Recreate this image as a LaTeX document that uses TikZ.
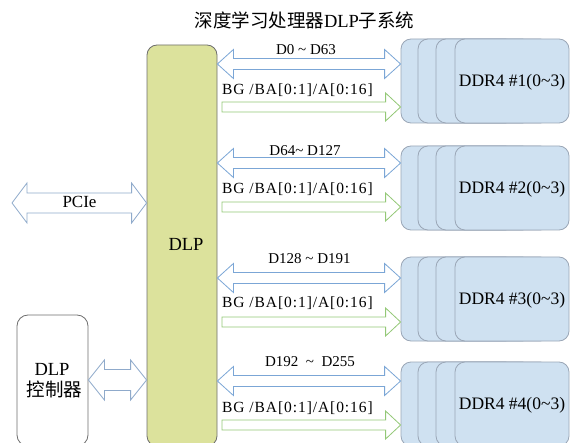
\documentclass[tikz,border=0pt]{standalone}
\usepackage{fontspec}
\setmainfont{Liberation Serif}
\newfontfamily\cjk{Noto Sans CJK SC}
\newfontfamily\lsfont[LetterSpace=6]{Liberation Serif}
\usetikzlibrary{calc}

\definecolor{dlpfill}{HTML}{DCE29C}
\definecolor{boxdraw}{HTML}{6E6E6E}
\definecolor{ddrfill}{HTML}{CFE1F1}
\definecolor{ddrdraw}{HTML}{9AA6B6}
\definecolor{bluearr}{HTML}{7BA6D6}
\definecolor{greenarr}{HTML}{93C876}
\definecolor{pciearr}{HTML}{8FAACB}

% double block arrow: #1 left, #2 right, #3 shaft half, #4 head half, #5 head length, #6 style
\newcommand\dblarr[6]{%
  \draw[#6] let \p1=(#1), \p2=(#2) in
    (\x1,\y1) -- (\x1+#5,\y1+#4) -- (\x1+#5,\y1+#3) -- (\x2-#5,\y1+#3)
    -- (\x2-#5,\y1+#4) -- (\x2,\y1) -- (\x2-#5,\y1-#4) -- (\x2-#5,\y1-#3)
    -- (\x1+#5,\y1-#3) -- (\x1+#5,\y1-#4) -- cycle;}
% single block arrow
\newcommand\sglarr[6]{%
  \draw[#6] let \p1=(#1), \p2=(#2) in
    (\x1,\y1+#3) -- (\x2-#5,\y1+#3) -- (\x2-#5,\y1+#4) -- (\x2,\y1)
    -- (\x2-#5,\y1-#4) -- (\x2-#5,\y1-#3) -- (\x1,\y1-#3) -- cycle;}

\tikzset{
  chip/.style={draw=ddrdraw, fill=ddrfill, rounded corners=10pt,
    minimum width=114pt, minimum height=84pt, inner sep=0pt, line width=0.8pt,
    font=\fontsize{17.5}{20}\selectfont, text height=11pt, text depth=0pt},
  dlpbox/.style={draw=boxdraw, fill=dlpfill, rounded corners=10pt,
    minimum width=70pt, minimum height=401pt, inner sep=0pt, line width=0.8pt},
  ctrlbox/.style={draw=boxdraw, fill=white, rounded corners=11pt,
    minimum width=71pt, minimum height=131pt, inner sep=0pt, line width=0.8pt},
  bigtxt/.style={font=\fontsize{18.5}{22}\selectfont, inner sep=0pt, anchor=base},
  dtxt/.style={font=\fontsize{15}{18}\selectfont, inner sep=0pt, anchor=base},
  bgtxt/.style={font=\lsfont\fontsize{15.5}{18}\selectfont, inner sep=0pt, anchor=base west},
  bluea/.style={draw=bluearr, fill=white, line width=0.8pt, line join=miter},
  greena/.style={draw=greenarr, fill=white, line width=0.8pt, line join=miter},
  pciea/.style={draw=pciearr, fill=white, line width=0.8pt, line join=miter},
}

\begin{document}
\begin{tikzpicture}[x=1pt, y=-1pt]
\useasboundingbox (0,0) rectangle (572,443);
\clip (0,0) rectangle (572,443);

% title
\node[bigtxt] (title) at (304.5,28) {\cjk 深度学习处理器\rmfamily DLP\cjk 子系统};

% DLP main box
\node[dlpbox] (dlp) at (182,245.5) {};
\node[bigtxt] (dlplbl) at (186,251) {DLP};

% DLP controller
\node[ctrlbox] (ctrl) at (52.5,380.5) {};
\node[bigtxt] (ctrl1) at (52,375) {DLP};
\node[bigtxt] (ctrl2) at (54.5,396) {\cjk 控制器};

% PCIe
\coordinate (pcl) at (12,203);
\dblarr{pcl}{dlp.west |- 0,203}{10pt}{20pt}{15pt}{pciea}
\node[font=\fontsize{17}{20}\selectfont, inner sep=0pt, anchor=base] (pcie) at (79.5,208) {PCIe};

% controller link
\dblarr{ctrl.east |- 0,380}{dlp.west |- 0,380}{10.5pt}{20pt}{16pt}{pciea}

% DDR stacks
\foreach \g/\t in {1/39,2/146,3/257,4/362}{
  \node[chip] (s\g a) at (458,\t+42) {};
  \node[chip] (s\g b) at (475,\t+42) {};
  \node[chip] (s\g c) at (493,\t+42) {};
  \node[chip] (s\g d) at (512,\t+42) {DDR4 \#\g(0\textasciitilde3)};
}

% group 1
\dblarr{dlp.east |- 0,64}{s1a.west |- 0,64}{5.5pt}{14.5pt}{16pt}{bluea}
\coordinate (g1l) at (222,107);
\sglarr{g1l}{s1a.west |- 0,107}{5pt}{14pt}{15pt}{greena}
\node[dtxt] (l1d) at (306,55) {D0 \textasciitilde{} D63};
\node[bgtxt] (l1b) at (222,95) {BG /BA[0:1]/A[0:16]};

% group 2
\dblarr{dlp.east |- 0,163}{s2a.west |- 0,163}{5.5pt}{14.5pt}{16pt}{bluea}
\coordinate (g2l) at (222,207);
\sglarr{g2l}{s2a.west |- 0,207}{5pt}{14pt}{15pt}{greena}
\node[dtxt] (l2d) at (305,156) {D64\textasciitilde{} D127};
\node[bgtxt] (l2b) at (222,194) {BG /BA[0:1]/A[0:16]};

% group 3
\dblarr{dlp.east |- 0,278}{s3a.west |- 0,278}{5.5pt}{14.5pt}{16pt}{bluea}
\coordinate (g3l) at (222,322);
\sglarr{g3l}{s3a.west |- 0,322}{5pt}{14pt}{15pt}{greena}
\node[dtxt] (l3d) at (309.5,264) {D128 \textasciitilde{} D191};
\node[bgtxt] (l3b) at (222,307) {BG /BA[0:1]/A[0:16]};

% group 4
\dblarr{dlp.east |- 0,381}{s4a.west |- 0,381}{5.5pt}{14.5pt}{16pt}{bluea}
\coordinate (g4l) at (222,425);
\sglarr{g4l}{s4a.west |- 0,425}{5pt}{14pt}{15pt}{greena}
\node[dtxt] (l4d) at (310,366) {D192 \ \textasciitilde{}\ \ D255};
\node[bgtxt] (l4b) at (222,412) {BG /BA[0:1]/A[0:16]};
\end{tikzpicture}
\end{document}
